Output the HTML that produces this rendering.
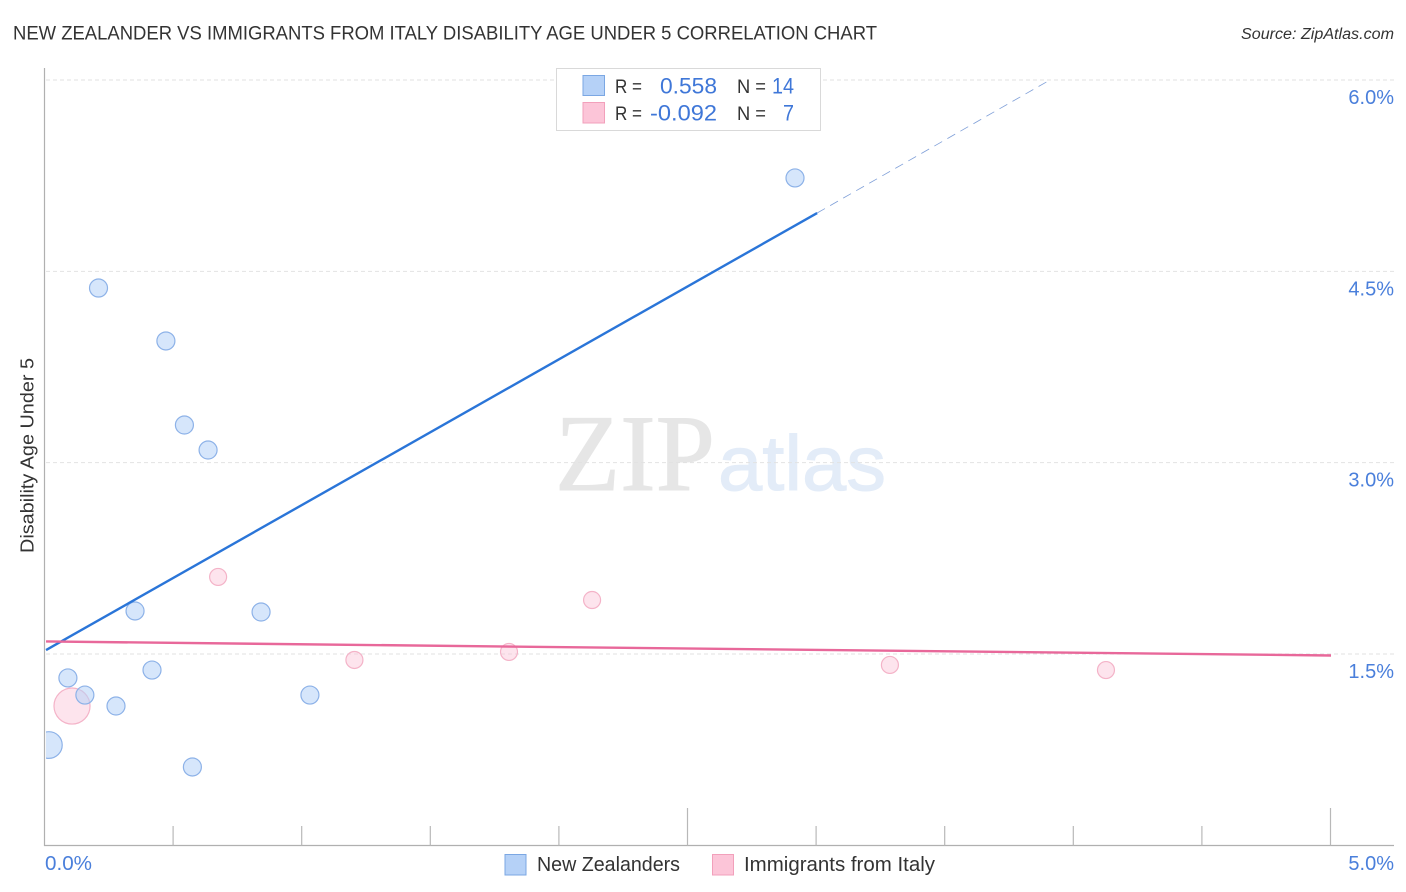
<!DOCTYPE html>
<html lang="en">
<head>
<meta charset="utf-8">
<title>New Zealander vs Immigrants from Italy Disability Age Under 5 Correlation Chart</title>
<style>
html,body{margin:0;padding:0;background:#fff;width:1406px;height:892px;overflow:hidden}
svg{display:block}
text{font-family:"Liberation Sans",sans-serif}
</style>
</head>
<body>
<svg id="chart" xmlns="http://www.w3.org/2000/svg" width="1406" height="892" viewBox="0 0 1406 892">
  <rect width="1406" height="892" fill="#fff"/>
  <text x="13" y="39.5" font-size="19" fill="#333" textLength="864" lengthAdjust="spacingAndGlyphs">NEW ZEALANDER VS IMMIGRANTS FROM ITALY DISABILITY AGE UNDER 5 CORRELATION CHART</text>
  <text x="1241" y="39" font-size="15.5" font-style="italic" fill="#333" textLength="153" lengthAdjust="spacingAndGlyphs">Source: ZipAtlas.com</text>

  <g id="watermark">
    <text x="555" y="490" font-size="109" fill="#e6e6e6" stroke="#e6e6e6" stroke-width="1" style="font-family:'Liberation Serif',serif" textLength="160" lengthAdjust="spacingAndGlyphs">ZIP</text>
    <text x="718" y="490" font-size="78" fill="#e3ecf8" stroke="#e3ecf8" stroke-width="1" style="font-family:'Liberation Sans',sans-serif" textLength="168" lengthAdjust="spacingAndGlyphs">atlas</text>
  </g>

  <g id="grid"></g>
  <g id="axes"></g>
  <g id="marks"></g>
  <g id="trends"></g>

  <text transform="translate(33.5,553) rotate(-90)" font-size="18.5" fill="#333" textLength="195" lengthAdjust="spacingAndGlyphs">Disability Age Under 5</text>

  <g>
    <rect x="556.5" y="68.5" width="264" height="62" fill="#fff" stroke="#d9d9d9" stroke-width="1"/>
    <rect x="583" y="75.5" width="21.5" height="20" fill="#b5d1f7" stroke="#7ba7e3" stroke-width="1"/>
    <rect x="583" y="102.5" width="21.5" height="20.5" fill="#fcc5d8" stroke="#f2a0bb" stroke-width="1"/>
    <text x="615" y="93" font-size="19.5" fill="#333" textLength="27" lengthAdjust="spacingAndGlyphs">R =</text>
    <text x="660" y="93.5" font-size="22" fill="#3f77d8" textLength="57" lengthAdjust="spacingAndGlyphs">0.558</text>
    <text x="737" y="93" font-size="19.5" fill="#333" textLength="29" lengthAdjust="spacingAndGlyphs">N =</text>
    <text x="772" y="93.5" font-size="22" fill="#3f77d8" textLength="22" lengthAdjust="spacingAndGlyphs">14</text>
    <text x="615" y="120" font-size="19.5" fill="#333" textLength="27" lengthAdjust="spacingAndGlyphs">R =</text>
    <text x="650" y="120.5" font-size="22" fill="#3f77d8" textLength="67" lengthAdjust="spacingAndGlyphs">-0.092</text>
    <text x="737" y="120" font-size="19.5" fill="#333" textLength="29" lengthAdjust="spacingAndGlyphs">N =</text>
    <text x="783" y="120.5" font-size="22" fill="#3f77d8" textLength="11" lengthAdjust="spacingAndGlyphs">7</text>
  </g>

  <g>
    <rect x="505" y="854.5" width="21" height="20.5" fill="#b5d1f7" stroke="#7ba7e3" stroke-width="1"/>
    <text x="537" y="871" font-size="20" fill="#333" textLength="143" lengthAdjust="spacingAndGlyphs">New Zealanders</text>
    <rect x="712.5" y="854.5" width="21" height="20.5" fill="#fcc5d8" stroke="#f2a0bb" stroke-width="1"/>
    <text x="744" y="871" font-size="20" fill="#333" textLength="191" lengthAdjust="spacingAndGlyphs">Immigrants from Italy</text>
  </g>
</svg>
<script>
// Chart data
var blueX = [0.21, 0.472, 0.544, 0.636, 0.352, 0.842, 0.418, 0.091, 0.157, 0.278, 1.032, 0.575, 0.017, 2.918];
var blueY = [4.369, 3.954, 3.295, 3.099, 1.837, 1.829, 1.374, 1.312, 1.178, 1.092, 1.178, 0.614, 0.786, 5.232];
var blueN = [1, 1, 1, 1, 1, 1, 1, 1, 1, 1, 1, 1, 2.2, 1];
var pinkX = [0.675, 2.129, 1.806, 1.205, 3.287, 4.127, 0.107];
var pinkY = [2.104, 1.923, 1.516, 1.453, 1.414, 1.374, 1.092];
var pinkN = [1, 1, 1, 1, 1, 1, 4.5];
var blueTrendX = [0.006, 3.004];
var blueTrendY = [1.531, 4.957];
var blueDashX = [3.004, 3.909];
var blueDashY = [4.957, 6.0];
var pinkTrendX = [0.006, 5.002];
var pinkTrendY = [1.598, 1.488];
var yTicks = [1.5, 3.0, 4.5, 6.0];
var yTickLabels = ["1.5%", "3.0%", "4.5%", "6.0%"];
var xTicks = [0.5, 1, 1.5, 2, 2.5, 3, 3.5, 4, 4.5, 5];
var xMajorTicks = [2.5, 5];
var xEndLabels = ["0.0%", "5.0%"];

var NS = 'http://www.w3.org/2000/svg';
function sx(v) { return 44.5 + v * 257.2; }
function sy(v) { return 845.3 - v * 127.55; }
function rOf(n, base) { return base * Math.sqrt(n); }
function mk(parent, tag, attrs) {
  var el = document.createElementNS(NS, tag);
  for (var k in attrs) el.setAttribute(k, attrs[k]);
  parent.appendChild(el);
  return el;
}

var grid = document.getElementById('grid');
var axes = document.getElementById('axes');
var marks = document.getElementById('marks');
var trends = document.getElementById('trends');

yTicks.forEach(function (t, i) {
  var line = mk(grid, 'line', {x1: 46, x2: 1394, y1: sy(t), y2: sy(t), stroke: '#e2e2e2', 'stroke-width': 1, 'stroke-dasharray': '4 3'});
  
  
  var label = mk(axes, 'text', {x: 1394, y: sy(t) + 24, 'text-anchor': 'end', 'font-size': 20, fill: '#4a7fdb'});
  
  
  label.textContent = yTickLabels[i];
});

var yAxis = mk(axes, 'line', {x1: 44.5, x2: 44.5, y1: 68, y2: 846, stroke: '#b0b0b0', 'stroke-width': 1.2});


var xAxis = mk(axes, 'line', {x1: 44, x2: 1394, y1: 845.5, y2: 845.5, stroke: '#b0b0b0', 'stroke-width': 1.2});



xTicks.forEach(function (t) {
  var major = xMajorTicks.indexOf(t) >= 0;
  var tick = mk(axes, 'line', {x1: sx(t), x2: sx(t), y1: major ? 808 : 826, y2: 845.5, stroke: '#b8b8b8', 'stroke-width': 1.2});
  
  
});

var x0 = mk(axes, 'text', {x: 45, y: 870, 'font-size': 20, fill: '#4a7fdb', textLength: 47, lengthAdjust: 'spacingAndGlyphs'});


x0.textContent = xEndLabels[0];
var x1 = mk(axes, 'text', {x: 1394, y: 870, 'text-anchor': 'end', 'font-size': 20, fill: '#4a7fdb'});


x1.textContent = xEndLabels[1];

var clip = mk(document.getElementById('chart'), 'clipPath', {id: 'plot-clip'});
mk(clip, 'rect', {x: 46, y: 60, width: 1360, height: 786});
marks.setAttribute('clip-path', 'url(#plot-clip)');

pinkX.forEach(function (v, i) {
  var dot = mk(marks, 'circle', {cx: sx(v), cy: sy(pinkY[i]), r: rOf(pinkN[i], 8.5), fill: '#fbc4d6', 'fill-opacity': 0.45, stroke: '#f4b3c8', 'stroke-width': 1.2});
  
  
});
blueX.forEach(function (v, i) {
  var dot = mk(marks, 'circle', {cx: sx(v), cy: sy(blueY[i]), r: rOf(blueN[i], 9), fill: '#b5d1f7', 'fill-opacity': 0.55, stroke: '#8db2e8', 'stroke-width': 1.2});
  
  
});

var blueTrend = mk(trends, 'line', {x1: sx(blueTrendX[0]), y1: sy(blueTrendY[0]), x2: sx(blueTrendX[1]), y2: sy(blueTrendY[1]), stroke: '#2a75d8', 'stroke-width': 2.4});


var blueDash = mk(trends, 'line', {x1: sx(blueDashX[0]), y1: sy(blueDashY[0]), x2: sx(blueDashX[1]), y2: sy(blueDashY[1]), stroke: '#7f9fd8', 'stroke-width': 0.8, 'stroke-dasharray': '9 6'});


var pinkTrend = mk(trends, 'line', {x1: sx(pinkTrendX[0]), y1: sy(pinkTrendY[0]), x2: sx(pinkTrendX[1]), y2: sy(pinkTrendY[1]), stroke: '#e8689a', 'stroke-width': 2.4});


</script>
</body>
</html>
